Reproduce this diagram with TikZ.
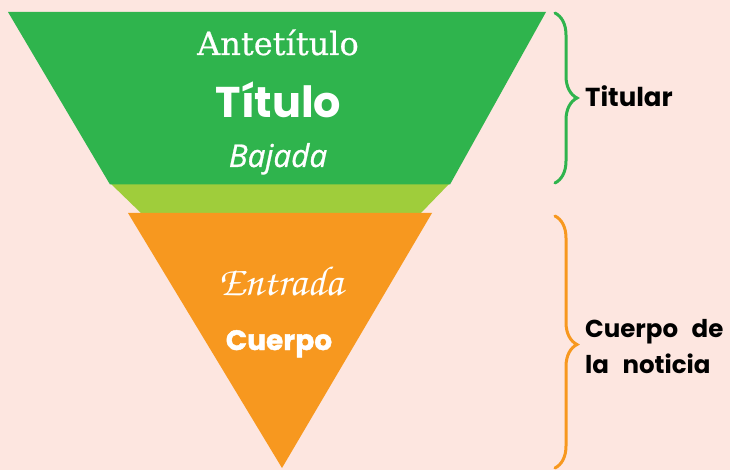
\documentclass[tikz,border=0pt]{standalone}
\usepackage{fontspec}
\usetikzlibrary{decorations.pathreplacing}
\newfontfamily\popfont{Poppins}
\newfontfamily\popheavy{Poppins}[BoldFeatures={FakeBold=1.5}]
\newfontfamily\serfont{DejaVu Serif}[UprightFeatures={FakeBold=0.6}]
\newfontfamily\osfont{Open Sans}[ItalicFeatures={FakeBold=0.8}]
\newfontfamily\chorusfont{texgyrechorus-mediumitalic.otf}
\definecolor{bgpink}{HTML}{FDE6E0}
\definecolor{fgreen}{HTML}{2FB44D}
\definecolor{lgreen}{HTML}{9FCD3B}
\definecolor{forange}{HTML}{F7981F}
\tikzset{
  intext/.style={text=white, inner sep=0pt, anchor=base},
  sidetext/.style={text=black, inner sep=0pt, anchor=base west},
  bracedeco/.style={line width=3pt, line cap=round, decorate, decoration={brace, amplitude=22pt}}
}
\begin{document}
\begin{tikzpicture}[x=1pt,y=-1pt]
\fill[bgpink] (0,0) rectangle (730,470);
\useasboundingbox (0,0) rectangle (730,470);
% light green band
\fill[lgreen] (110,183) -- (450,183) -- (420,214) -- (142,214) -- cycle;
% green trapezoid
\fill[fgreen] (8,12) -- (546,12) -- (450,184.5) -- (110,184.5) -- cycle;
% orange triangle
\fill[forange] (128,213) -- (432,213) -- (282,468) -- cycle;
% texts
\node[intext, font=\serfont\fontsize{32}{32}\selectfont] (ante) at (278,55) {Antetítulo};
\node[intext, font=\popfont\bfseries\fontsize{43}{43}\selectfont] (titulo) at (278.5,118) {Título};
\node[intext, font=\osfont\itshape\fontsize{31.5}{31.5}\selectfont] (bajada) at (278,167) {Bajada};
\node[intext, font=\chorusfont\fontsize{42}{42}\selectfont] (entrada) at (281,295) {Entrada};
\node[intext, font=\popheavy\bfseries\fontsize{28}{28}\selectfont] (cuerpo) at (279,350) {Cuerpo};
% braces
\coordinate (gtop) at (555,13);
\coordinate (gbot) at (555,183);
\coordinate (otop) at (555,216);
\coordinate (obot) at (555,468);
\draw[fgreen, bracedeco] (gtop) -- (gbot);
\draw[forange, bracedeco, decoration={aspect=0.51}] (otop) -- (obot);
\node[sidetext, font=\popfont\bfseries\fontsize{26}{26}\selectfont] (titular) at (585,107) {Titular};
\node[sidetext, font=\popfont\bfseries\fontsize{24.5}{24.5}\selectfont] (cuerpode) at (585,337) {Cuerpo\hspace{0.55em}de};
\node[sidetext, font=\popfont\bfseries\fontsize{24.5}{24.5}\selectfont] (noticia) at (585,373) {la\hspace{0.55em}noticia};
\end{tikzpicture}
\end{document}
